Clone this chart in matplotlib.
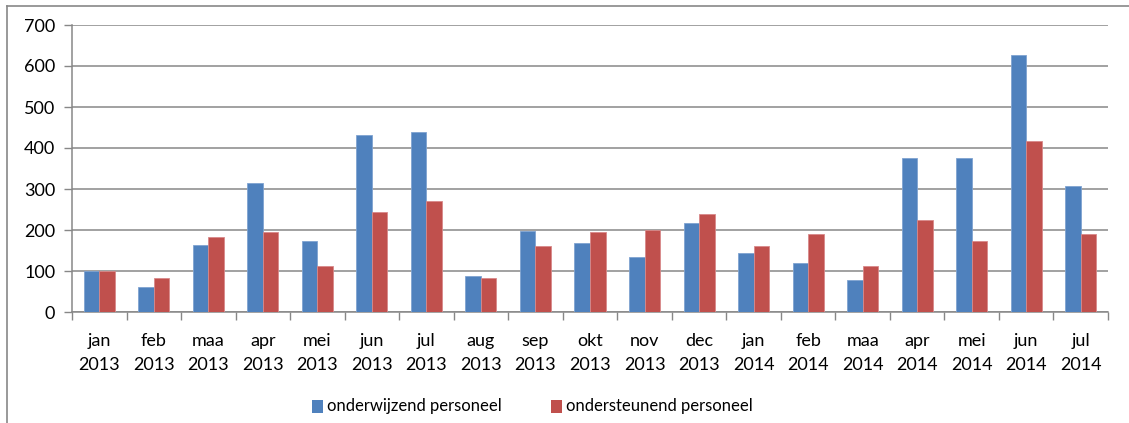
import matplotlib
matplotlib.use("Agg")
import matplotlib.pyplot as plt
from matplotlib.lines import Line2D
from matplotlib.patches import Rectangle
import numpy as np

months = ["jan", "feb", "maa", "apr", "mei", "jun", "jul", "aug", "sep", "okt",
          "nov", "dec", "jan", "feb", "maa", "apr", "mei", "jun", "jul"]
years = ["2013"] * 12 + ["2014"] * 7
onderwijzend = [100, 60, 164, 314, 172, 431, 438, 89, 198, 168,
                134, 217, 145, 119, 77, 375, 375, 627, 307]
ondersteunend = [100, 82, 182, 195, 112, 243, 270, 82, 160, 195,
                 199, 239, 160, 190, 112, 224, 172, 416, 190]
series_names = ["onderwijzend personeel", "ondersteunend personeel"]
yticks = [0, 100, 200, 300, 400, 500, 600, 700]

plt.rcParams['font.family'] = ['Lato', 'DejaVu Sans']

W, H = 1129, 423
fig = plt.figure(figsize=(W / 100, H / 100), dpi=100)
ax = fig.add_axes([72 / W, (H - 312) / H, (1108 - 72) / W, (312 - 25) / H])

blue = "#4F81BD"
red = "#C0504D"
grid = "#878787"
n = len(months)
x = np.arange(n)
bw = 0.285
ax.bar(x - bw / 2, onderwijzend, bw, color=blue, edgecolor="#7FA3D1", linewidth=0.6, zorder=3)
ax.bar(x + bw / 2, ondersteunend, bw, color=red, edgecolor="#D8898A", linewidth=0.6, zorder=3)

ax.set_xlim(-0.5, n - 0.5)
ax.set_ylim(0, 700)
ax.set_yticks(yticks)
ax.set_yticklabels([str(v) for v in yticks], fontsize=13, color="#000000")
ax.yaxis.grid(True, color=grid, linewidth=1.1, zorder=0)
ax.tick_params(axis='y', length=6, width=1, color=grid, pad=6)

ax.set_xticks(x)
ax.set_xticklabels([f"{m}\n{y}" for m, y in zip(months, years)], fontsize=13,
                   linespacing=1.62)
ax.tick_params(axis='x', length=0, pad=15)
ax.set_xticks(np.arange(n + 1) - 0.5, minor=True)
ax.tick_params(axis='x', which='minor', length=6, width=1, color=grid)

for s in ['top', 'right']:
    ax.spines[s].set_visible(False)
for s in ['left', 'bottom']:
    ax.spines[s].set_color(grid)
    ax.spines[s].set_linewidth(1.1)

# outer chart frame (left and top)
fig.add_artist(Line2D([7 / W, 7 / W], [0, 1 - 6 / H], color="#888888", linewidth=1.2))
fig.add_artist(Line2D([7 / W, 1], [1 - 6 / H, 1 - 6 / H], color="#888888", linewidth=1.2))

# legend (drawn manually to match placement)
leg_y = 406
for (sq_x, txt_x), col, name in zip([(312, 327), (551, 566)], [blue, red], series_names):
    fig.add_artist(Rectangle((sq_x / W, 1 - (leg_y + 6.5) / H), 10.5 / W, 13 / H,
                             transform=fig.transFigure, facecolor=col, edgecolor='none'))
    fig.text(txt_x / W, 1 - leg_y / H, name, fontsize=12, va='center', ha='left')

fig.savefig("out.png", dpi=100)
